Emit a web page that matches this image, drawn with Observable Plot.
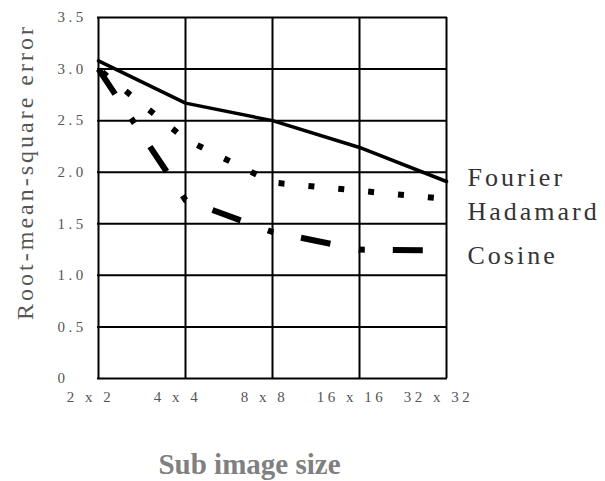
<!DOCTYPE html>
<html><head><meta charset="utf-8">
<script src="https://cdn.jsdelivr.net/npm/d3@7"></script>
<script src="https://cdn.jsdelivr.net/npm/@observablehq/plot@0.6"></script>
<style>
html,body{margin:0;padding:0;background:#fff;}
svg text{letter-spacing:3px;}
</style></head><body><div id="chart"></div>
<script>
const sizes = ["2 x 2", "4 x 4", "8 x 8", "16 x 16", "32 x 32"];
const fourier = [3.08, 2.67, 2.5, 2.24, 1.91];
const hadamard = [3.0, 2.32, 1.9, 1.82, 1.74];
const cosine = [3.0, 1.73, 1.42, 1.25, 1.24];
const seriesNames = ["Fourier", "Hadamard", "Cosine"];
const yTicks = [0, 0.5, 1, 1.5, 2, 2.5, 3, 3.5];
const yTitle = "Root-mean-square error";
const xTitle = "Sub image size";

const seriesValues = [fourier, hadamard, cosine];
const rows = seriesNames.flatMap((name, i) =>
  sizes.map((size, j) => ({series: name, size, value: seriesValues[i][j]})));
const of = name => rows.filter(d => d.series === name);
const lastOf = name => of(name).slice(-1);

const labelStyle = {x: "size", y: "value", text: "series", textAnchor: "start", dx: 21, fontSize: 26, fill: "#333"};

const plot = Plot.plot({
  width: 605, height: 481,
  marginLeft: 97, marginRight: 158, marginTop: 17, marginBottom: 103,
  style: {fontFamily: '"Liberation Serif", "Times New Roman", serif', background: "#fff", color: "#000"},
  x: {type: "point", domain: sizes, padding: 0, label: null},
  y: {domain: [0, 3.5], label: null},
  marks: [
    Plot.ruleY(yTicks, {stroke: "#000", strokeWidth: 2}),
    Plot.ruleX(sizes, {stroke: "#000", strokeWidth: 2}),
    Plot.axisY(yTicks, {tickSize: 0, tickPadding: 40, textAnchor: "start", fontSize: 15, fill: "#555", label: null,
      tickFormat: d => d === 0 ? "0" : d.toFixed(1)}),
    Plot.axisX(sizes, {tickSize: 0, tickPadding: 13, fontSize: 15, fill: "#555", dx: -8, label: null}),
    Plot.line(of("Fourier"), {x: "size", y: "value", stroke: "#000", strokeWidth: 3.5}),
    Plot.line(of("Hadamard"), {x: "size", y: "value", stroke: "#000", strokeWidth: 6,
      strokeDasharray: "6,24", strokeDashoffset: -5, strokeLinecap: "butt"}),
    Plot.line(of("Cosine"), {x: "size", y: "value", stroke: "#000", strokeWidth: 6,
      strokeDasharray: "30,29,6,28", strokeLinecap: "butt"}),
    Plot.text(lastOf("Fourier"), {...labelStyle, dy: -4}),
    Plot.text(lastOf("Hadamard"), {...labelStyle, dy: 12.5}),
    Plot.text(lastOf("Cosine"), {...labelStyle, dy: 5}),
    Plot.text([yTitle], {text: d => d, frameAnchor: "left", textAnchor: "middle", lineAnchor: "middle",
      rotate: -90, dx: -72, dy: -26, fontSize: 24, fill: "#555"}),
    Plot.text([xTitle], {text: d => d, frameAnchor: "bottom", textAnchor: "middle", lineAnchor: "middle",
      dx: -23, dy: 86, fontSize: 29, fontWeight: "bold", fill: "#808080"})
  ]
});
d3.select(plot).selectAll("text").filter(function() { return this.textContent === xTitle; })
  .style("letter-spacing", "0px");
d3.select(plot).selectAll('g[aria-label="x-axis tick label"] text, g[aria-label="y-axis tick label"] text')
  .style("letter-spacing", "3.5px");
document.getElementById("chart").appendChild(plot);
</script>
</body></html>
